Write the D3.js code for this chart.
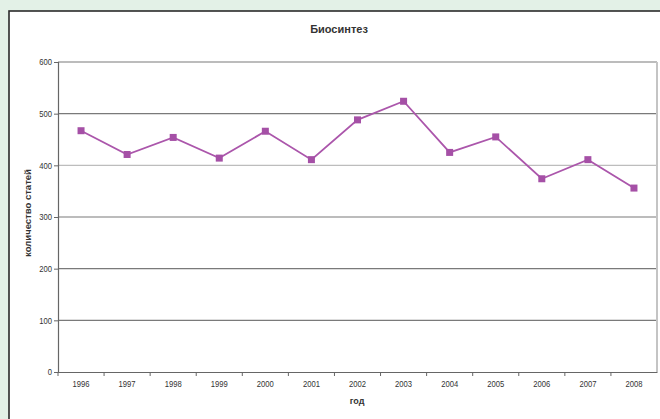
<!DOCTYPE html>
<html>
<head>
<meta charset="utf-8">
<script src="https://cdn.jsdelivr.net/npm/d3@7"></script>
<style>
  html, body { margin: 0; padding: 0; background: #e3f1e7; }
  svg { display: block; }
  text { font-family: "Liberation Sans", Arial, sans-serif; fill: #333; }
</style>
</head>
<body>
<svg id="chart" width="660" height="419"></svg>
<script>
// Publications per year on biosynthesis
const years = ["1996","1997","1998","1999","2000","2001","2002","2003","2004","2005","2006","2007","2008"];
const counts = [467, 421, 454, 414, 466, 411, 488, 524, 425, 455, 374, 411, 356];
const yTicks = [0, 100, 200, 300, 400, 500, 600];

const chartTitle = "Биосинтез";
const xTitle = "год";
const yTitle = "количество статей";

const svg = d3.select("#chart");
const W = 660, H = 419;

// white chart panel with dark frame (runs past the right/bottom edge)
svg.append("rect")
  .attr("x", 9).attr("y", 11)
  .attr("width", W + 20).attr("height", H + 20)
  .attr("fill", "#fff")
  .attr("stroke", "#2a2a2a").attr("stroke-width", 1.6);

const plot = { left: 58, right: 657, top: 62, bottom: 372 };

const x = d3.scaleBand().domain(years).range([plot.left, plot.right]).padding(0);
const y = d3.scaleLinear().domain([0, 600]).range([plot.bottom, plot.top]);

// horizontal gridlines
svg.append("g").selectAll("line")
  .data(yTicks.filter(v => v > 0))
  .join("line")
  .attr("x1", plot.left).attr("x2", plot.right)
  .attr("y1", d => y(d)).attr("y2", d => y(d))
  .attr("stroke", d => d === 400 ? "#bdbdbd" : "#7a7a7a")
  .attr("stroke-width", 1.2);

// right border of plot area
svg.append("line")
  .attr("x1", plot.right).attr("x2", plot.right)
  .attr("y1", plot.top).attr("y2", plot.bottom)
  .attr("stroke", "#c4c4c4").attr("stroke-width", 2);

// y axis
const yAxis = svg.append("g")
  .attr("transform", `translate(${plot.left},0)`)
  .call(d3.axisLeft(y).tickValues(yTicks).tickSize(4).tickPadding(3));
yAxis.select(".domain").attr("stroke", "#666").attr("stroke-width", 1.2);
yAxis.selectAll(".tick line").attr("stroke", "#666");
yAxis.selectAll(".tick text")
  .attr("font-size", 9).attr("fill", "#555")
  .attr("transform", "scale(0.85,1)")
  .attr("font-family", "Liberation Sans, Arial, sans-serif");

// x axis with ticks between categories
const xAxis = svg.append("g")
  .attr("transform", `translate(0,${plot.bottom})`)
  .call(d3.axisBottom(x).tickSize(0).tickPadding(9));
xAxis.select(".domain").attr("stroke", "#666").attr("stroke-width", 1.2);
xAxis.selectAll(".tick text")
  .attr("font-size", 9).attr("fill", "#555")
  .attr("transform", "scale(0.85,1)")
  .attr("font-family", "Liberation Sans, Arial, sans-serif");
svg.append("g").selectAll("line")
  .data(years)
  .join("line")
  .attr("x1", d => x(d)).attr("x2", d => x(d))
  .attr("y1", plot.bottom).attr("y2", plot.bottom + 4)
  .attr("stroke", "#666");

// data line
const cx = d => x(d) + x.bandwidth() / 2;
const series = years.map((yr, i) => ({ yr, v: counts[i] }));
svg.append("path")
  .datum(series)
  .attr("fill", "none")
  .attr("stroke", "#ab56ab")
  .attr("stroke-width", 1.8)
  .attr("d", d3.line().x(d => cx(d.yr)).y(d => y(d.v)));

// square markers
const m = 7;
svg.append("g").selectAll("rect")
  .data(series)
  .join("rect")
  .attr("x", d => cx(d.yr) - m / 2)
  .attr("y", d => y(d.v) - m / 2)
  .attr("width", m).attr("height", m)
  .attr("fill", "#a550a6");

// titles
svg.append("text")
  .attr("x", 339).attr("y", 33)
  .attr("text-anchor", "middle")
  .attr("font-size", 11).attr("font-weight", "bold")
  .text(chartTitle);

svg.append("text")
  .attr("x", 357).attr("y", 404)
  .attr("text-anchor", "middle")
  .attr("font-size", 9).attr("font-weight", "bold")
  .text(xTitle);

svg.append("text")
  .attr("transform", "translate(31,213) rotate(-90)")
  .attr("text-anchor", "middle")
  .attr("font-size", 9.5).attr("font-weight", "bold")
  .text(yTitle);
</script>
</body>
</html>
